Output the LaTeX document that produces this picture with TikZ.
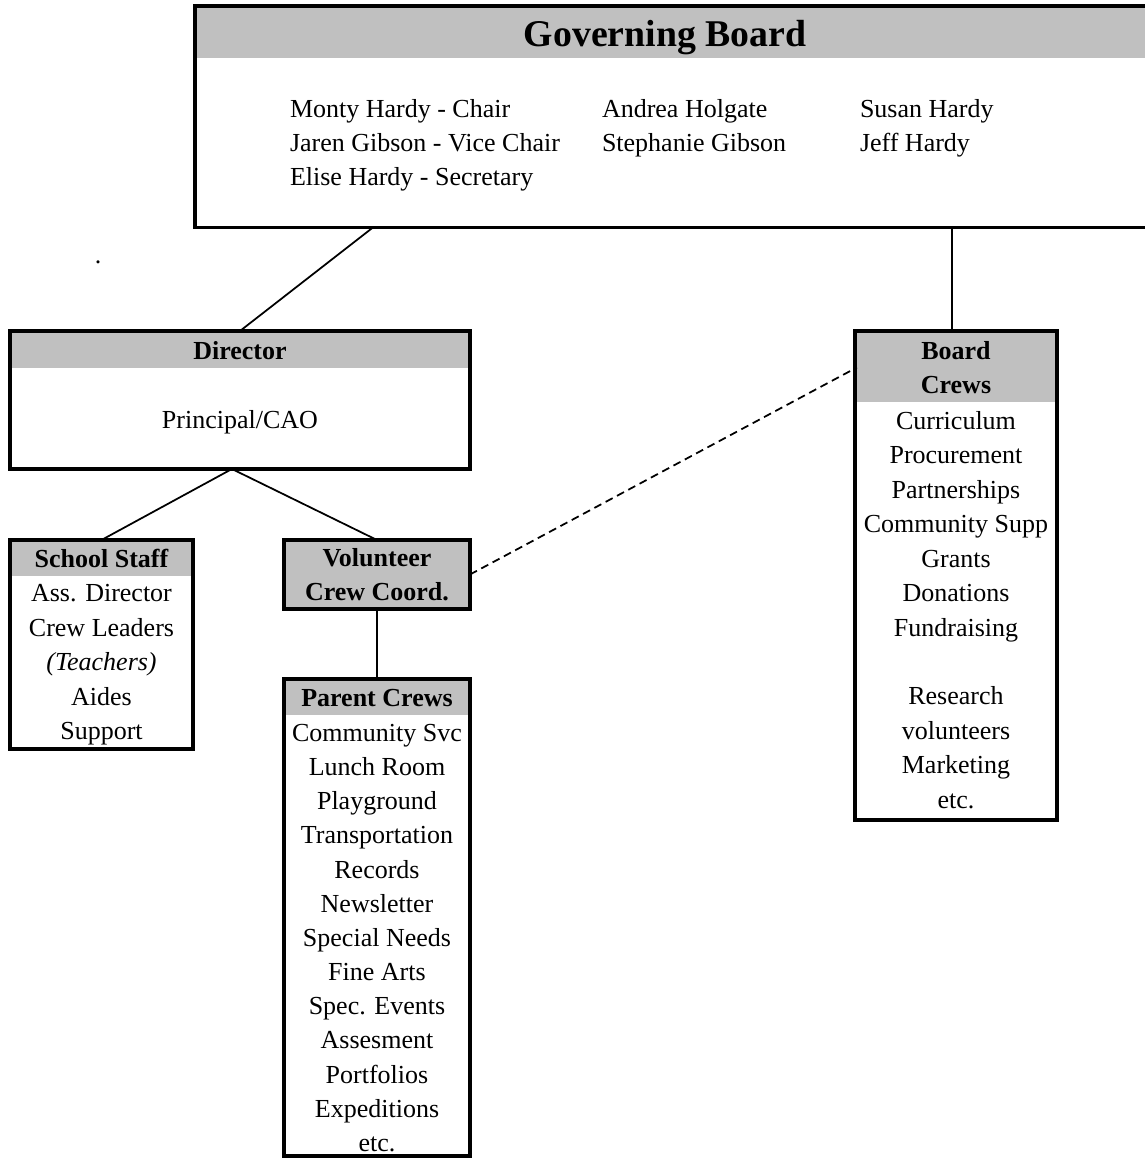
\documentclass[tikz,border=0pt]{standalone}
\usepackage{fontspec}
\setmainfont{Liberation Serif}
\usepackage{xcolor}
\usepackage{tikz}
\usetikzlibrary{positioning}

\definecolor{headgray}{RGB}{192,192,192}
\newcommand{\bodyfont}{\fontsize{14.8}{19.6}\selectfont}

\begin{document}
\begin{tikzpicture}[x=0.02cm, y=-0.02cm,
    every node/.style={inner sep=0pt, outer sep=0pt},
    frame/.style={draw, line width=2.2pt, fill=white, anchor=north west},
    headbar/.style={fill=headgray, anchor=north, align=center, font=\bfseries\bodyfont},
    items/.style={align=center, font=\bodyfont},
    link/.style={line width=1pt}]
    \useasboundingbox (0,0) rectangle (1145,1161);
    \clip (0,0) rectangle (1145,1161);

    % Boxes
    \node[frame, minimum width=19.1cm, minimum height=4.43cm] (gov) at (195,6) {};
    \node[headbar, minimum width=19.1cm-2.2pt, minimum height=1.0cm] (govhead) at ([yshift=-1.1pt]gov.north) {};
    \node[font=\bfseries\fontsize{21.5}{26}\selectfont] (govtitle) at (665,38) {Governing Board};
    \node[items, align=left, anchor=north west] (members1) at (290,99) {Monty Hardy - Chair\\Jaren Gibson - Vice Chair\\Elise Hardy - Secretary};
    \node[items, align=left, anchor=north west] (members2) at (602,99) {Andrea Holgate\\Stephanie Gibson};
    \node[items, align=left, anchor=north west] (members3) at (860,99) {Susan Hardy\\Jeff Hardy};

    \node[frame, minimum width=9.2cm, minimum height=2.76cm] (director) at (10,331) {};
    \node[headbar, minimum width=9.2cm-2.2pt, minimum height=0.70cm] (dirhead) at ([yshift=-1.1pt]director.north) {Director};
    \node[items] (dirbody) at (240,422) {Principal/CAO};

    \node[frame, minimum width=3.66cm, minimum height=4.18cm] (staff) at (10,540) {};
    \node[headbar, minimum width=3.66cm-2.2pt, minimum height=0.68cm] (staffhead) at ([yshift=-1.1pt]staff.north) {School Staff};
    \node[items] (staffbody) at (101.5,665) {Ass. Director\\Crew Leaders\\\textit{(Teachers)}\\Aides\\Support};

    \node[frame, fill=headgray, minimum width=3.72cm, minimum height=1.38cm] (volunteer) at (284,540) {};
    \node[items, font=\bfseries\bodyfont] (voltext) at (volunteer.center) {Volunteer\\Crew Coord.};

    \node[frame, minimum width=3.72cm, minimum height=9.54cm] (parent) at (284,679) {};
    \node[headbar, minimum width=3.72cm-2.2pt, minimum height=0.68cm] (parenthead) at ([yshift=-1.1pt]parent.north) {Parent Crews};
    \node[items, font=\fontsize{14.8}{19.45}\selectfont] (parentbody) at (377,938) {Community Svc\\Lunch Room\\Playground\\Transportation\\Records\\Newsletter\\Special Needs\\Fine Arts\\Spec. Events\\Assesment\\Portfolios\\Expeditions\\etc.};

    \node[frame, minimum width=4.04cm, minimum height=9.78cm] (board) at (855,331) {};
    \node[headbar, minimum width=4.04cm-2.2pt, minimum height=1.38cm] (boardhead) at ([yshift=-1.1pt]board.north) {Board\\Crews};
    \node[items] (boardbody) at (956,610) {Curriculum\\Procurement\\Partnerships\\Community Supp\\Grants\\Donations\\Fundraising\\[19.6pt]Research\\volunteers\\Marketing\\etc.};

    \node[font=\bodyfont] (dot) at (98,262) {.};

    % Lines
    \draw[link] ([xshift=3.56cm]gov.south west) -- (director.north);
    \draw[link] ([xshift=-0.08cm]board.north |- gov.south) -- ([xshift=-0.08cm]board.north);
    \draw[link] ([xshift=-0.16cm]director.south) -- (staff.north);
    \draw[link] ([xshift=-0.16cm]director.south) -- (volunteer.north);
    \draw[link] (volunteer.south) -- (parent.north);
    \draw[link, dash pattern=on 4.5pt off 2.8pt] (volunteer.east) -- (boardhead.west);
\end{tikzpicture}
\end{document}
